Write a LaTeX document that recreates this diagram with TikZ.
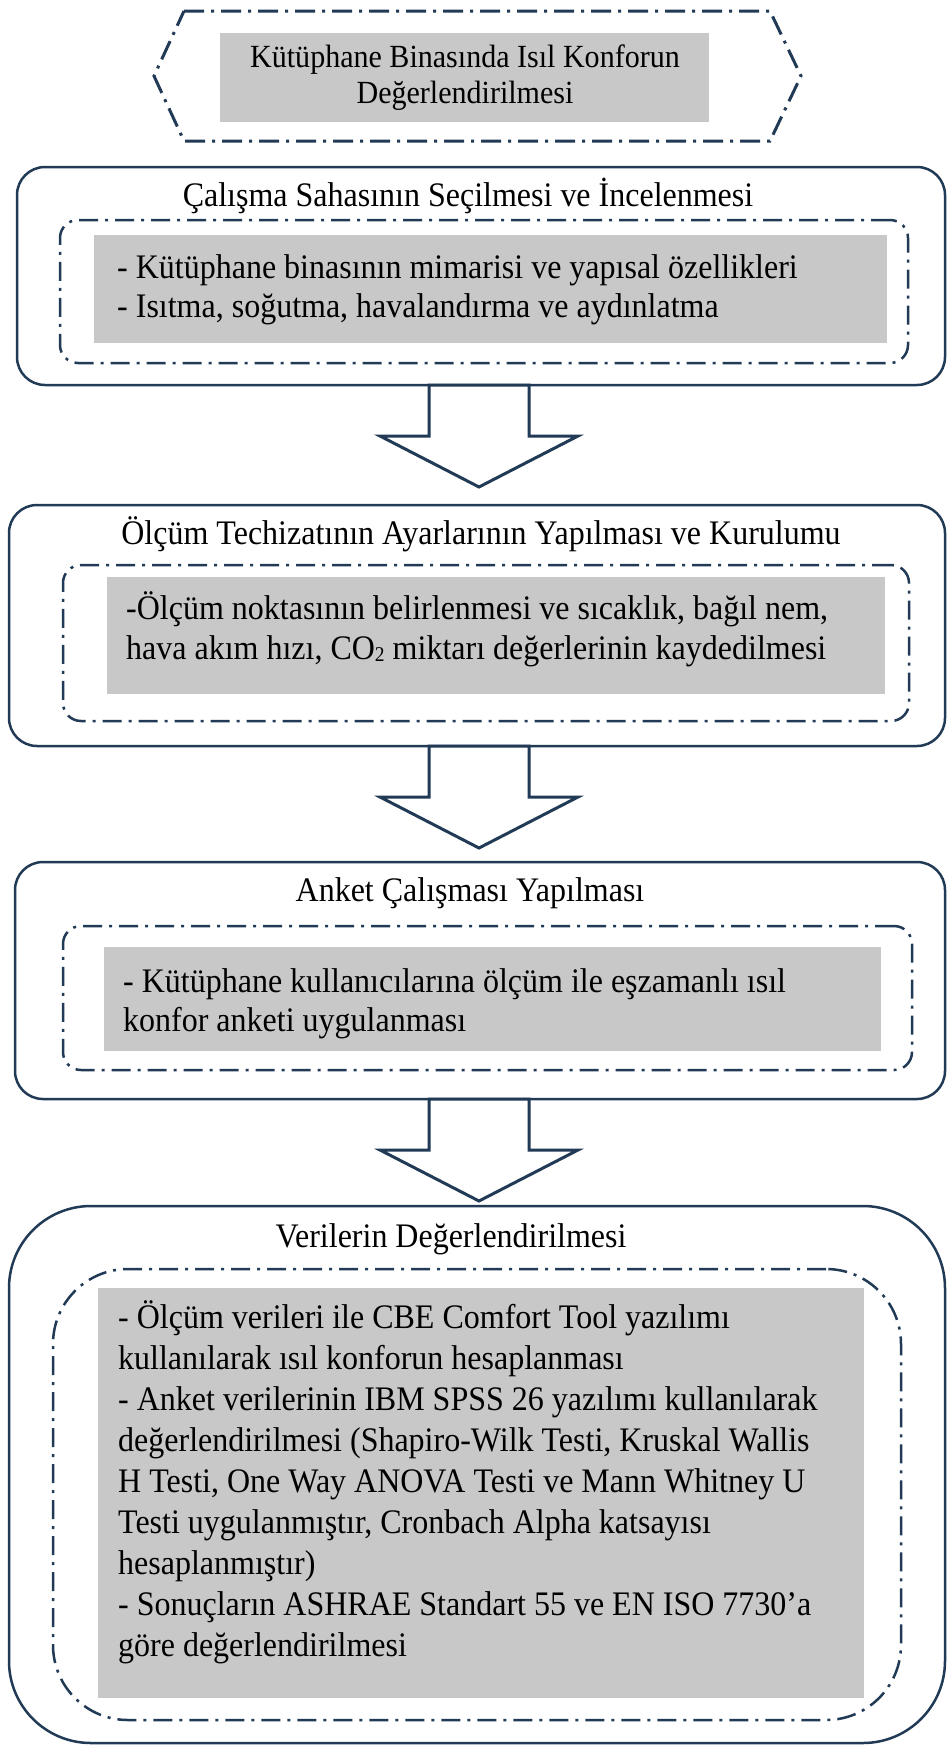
\documentclass[tikz,border=0pt]{standalone}
\usepackage{fontspec}
\setmainfont{Liberation Serif}[FakeStretch=0.93]
\definecolor{navy}{RGB}{33,58,86}
\definecolor{grayfill}{RGB}{200,200,200}
\newcommand\subtwo{\raisebox{-2pt}{\fontsize{21}{21}\selectfont 2}}
\begin{document}
\begin{tikzpicture}[x=1pt,y=-1pt,
  outerbox/.style={draw=navy,line width=2.5pt,rounded corners=28pt,inner sep=0pt,outer sep=0pt,anchor=north west},
  innerbox/.style={draw=navy,line width=2.5pt,dash pattern=on 19pt off 7pt on 3pt off 7pt,rounded corners=18pt,inner sep=0pt,outer sep=0pt,anchor=north west},
  graybox/.style={fill=grayfill,draw=none,inner sep=0pt,outer sep=0pt,anchor=north west},
  blockarrow/.style={draw=navy,fill=white,line width=3pt,line join=miter},
  txt/.style={font=\fontsize{34.4}{41}\selectfont,inner sep=0pt,anchor=base west},
  ttl/.style={font=\fontsize{34.4}{41}\selectfont,inner sep=0pt,anchor=base},
  hdr/.style={font=\fontsize{32.3}{38}\selectfont,inner sep=0pt,anchor=base}]
\useasboundingbox (0,0) rectangle (947,1748);
\fill[white] (0,0) rectangle (947,1748);

% heading hexagon
\draw[navy,line width=3pt,dash pattern=on 20pt off 7pt on 3pt off 7pt,line join=miter]
  (184,11) -- (770,11) -- (801,76) -- (770,141) -- (184,141) -- (154,76) -- cycle;
\node[graybox,minimum width=489pt,minimum height=89pt] (hg) at (220,33) {};
\node[hdr] (h1) at (465,67) {Kütüphane Binasında Isıl Konforun};
\node[hdr] (h2) at (465,103) {Değerlendirilmesi};

% box 1
\node[outerbox,minimum width=928pt,minimum height=218pt] (b1) at (17,167) {};
\node[innerbox,minimum width=848pt,minimum height=143pt] (i1) at (60,220) {};
\node[graybox,minimum width=793pt,minimum height=108pt] (g1) at (94,235) {};
\node[ttl] (t1) at (468,206) {Çalışma Sahasının Seçilmesi ve İncelenmesi};
\node[txt] (l1a) at (117,278) {- Kütüphane binasının mimarisi ve yapısal özellikleri};
\node[txt] (l1b) at (117,317) {- Isıtma, soğutma, havalandırma ve aydınlatma};

% arrow 1
\draw[blockarrow] (429,385) -- (529,385) -- (529,436) -- (578,436) -- (479,487) -- (380,436) -- (429,436) -- cycle;

% box 2
\node[outerbox,minimum width=936pt,minimum height=241pt] (b2) at (9,505) {};
\node[innerbox,minimum width=846pt,minimum height=156pt] (i2) at (63,565) {};
\node[graybox,minimum width=778pt,minimum height=117pt] (g2) at (107,577) {};
\node[ttl] (t2) at (481,544) {Ölçüm Techizatının Ayarlarının Yapılması ve Kurulumu};
\node[txt] (l2a) at (126,619) {-Ölçüm noktasının belirlenmesi ve sıcaklık, bağıl nem,};
\node[txt] (l2b) at (126,659) {hava akım hızı, CO\subtwo{} miktarı değerlerinin kaydedilmesi};

% arrow 2
\draw[blockarrow] (429,746) -- (529,746) -- (529,797) -- (578,797) -- (479,848) -- (380,797) -- (429,797) -- cycle;

% box 3
\node[outerbox,minimum width=930pt,minimum height=237pt] (b3) at (15,862) {};
\node[innerbox,minimum width=849pt,minimum height=144pt] (i3) at (63,926) {};
\node[graybox,minimum width=777pt,minimum height=104pt] (g3) at (104,947) {};
\node[ttl] (t3) at (470,901) {Anket Çalışması Yapılması};
\node[txt] (l3a) at (123,992) {- Kütüphane kullanıcılarına ölçüm ile eşzamanlı ısıl};
\node[txt] (l3b) at (123,1031) {konfor anketi uygulanması};

% arrow 3
\draw[blockarrow] (429,1099) -- (529,1099) -- (529,1150) -- (578,1150) -- (479,1201) -- (380,1150) -- (429,1150) -- cycle;

% box 4
\node[outerbox,rounded corners=82pt,minimum width=936pt,minimum height=537pt] (b4) at (9,1206) {};
\node[innerbox,rounded corners=75pt,minimum width=848pt,minimum height=451pt] (i4) at (53,1269) {};
\node[graybox,minimum width=766pt,minimum height=410pt] (g4) at (98,1288) {};
\node[ttl] (t4) at (451,1247) {Verilerin Değerlendirilmesi};
\node[txt] (l4a) at (118,1328) {- Ölçüm verileri ile CBE Comfort Tool yazılımı};
\node[txt] (l4b) at (118,1369) {kullanılarak ısıl konforun hesaplanması};
\node[txt] (l4c) at (118,1410) {- Anket verilerinin IBM SPSS 26 yazılımı kullanılarak};
\node[txt] (l4d) at (118,1451) {değerlendirilmesi (Shapiro-Wilk Testi, Kruskal Wallis};
\node[txt] (l4e) at (118,1492) {H Testi, One Way ANOVA Testi ve Mann Whitney U};
\node[txt] (l4f) at (118,1533) {Testi uygulanmıştır, Cronbach Alpha katsayısı};
\node[txt] (l4g) at (118,1574) {hesaplanmıştır)};
\node[txt] (l4h) at (118,1615) {- Sonuçların ASHRAE Standart 55 ve EN ISO 7730’a};
\node[txt] (l4i) at (118,1656) {göre değerlendirilmesi};
\end{tikzpicture}
\end{document}
